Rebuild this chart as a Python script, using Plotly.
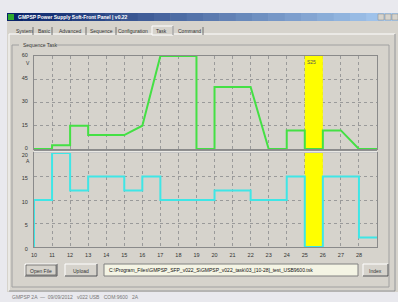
import plotly.graph_objects as go

# ---------------- data ----------------
volt_x = [10, 11, 11, 12, 12, 13, 13, 15, 16, 17, 19, 19, 20, 20, 22, 23, 24, 24, 25, 25, 26, 26, 27, 28, 29]
volt_y = [0, 0, 2.5, 2.5, 15, 15, 9, 9, 15, 60, 60, 0, 0, 40, 40, 0, 0, 12, 12, 0, 0, 12, 12, 0, 0]
curr_x = [10, 10, 11, 12, 13, 15, 16, 17, 20, 22, 24, 25, 26, 28, 29]
curr_y = [0, 10, 20, 12, 15, 12, 15, 10, 12, 10, 15, 0, 15, 2, 2]
sel_step = [25, 26]
sel_label = "S25"
x_ticks = list(range(10, 29))
v_ticks = [0, 15, 30, 45, 60]
a_ticks = [0, 5, 10, 15, 20]
v_range = [0, 60]
a_range = [0, 20]
tabs = ["System", "Basic", "Advanced", "Sequence", "Configuration", "Task", "Command"]
tab_x = [24, 44, 70, 101, 133, 161, 189]
title = "GMPSP Power Supply Soft-Front Panel | v0.22"
path = "C:\\Program_Files\\GMPSP_SFP_v022_S\\GMPSP_v022_task\\03_[10-28]_test_USB9600.tsk"

W, H = 398, 302
L, R, T, B = 34, 377, 56, 247
def X(px): return (px - L) / (R - L)
def Y(py): return (B - py) / (B - T)

WIN = "#d6d3cc"
FONT = "Liberation Sans"

fig = go.Figure()
# selected-step highlight (filled areas under the lines)
s0, s1 = sel_step
fig.add_trace(go.Scatter(x=[s0, s0, s1, s1, s0], y=[v_range[0], v_range[1], v_range[1], v_range[0], v_range[0]],
                         mode="lines", fill="toself", fillcolor="#ffff00", line=dict(width=0),
                         xaxis="x", yaxis="y", hoverinfo="skip"))
fig.add_trace(go.Scatter(x=[s0, s0, s1, s1, s0], y=[a_range[0], a_range[1], a_range[1], a_range[0], a_range[0]],
                         mode="lines", fill="toself", fillcolor="#ffff00", line=dict(width=0),
                         xaxis="x2", yaxis="y2", hoverinfo="skip"))
fig.add_trace(go.Scatter(x=volt_x, y=volt_y, mode="lines", xaxis="x", yaxis="y",
                         line=dict(color="#44e044", width=2), cliponaxis=False, hoverinfo="skip"))
fig.add_trace(go.Scatter(x=curr_x, y=curr_y, mode="lines", line_shape="hv", xaxis="x2", yaxis="y2",
                         line=dict(color="#3fe6e6", width=2), cliponaxis=False, hoverinfo="skip"))

ax_common = dict(range=[10, 29], tickvals=x_ticks, showgrid=True, gridcolor="#9a9a9a", griddash="dot",
                 gridwidth=1, showline=True, linecolor="#8a8a8a", mirror=True, zeroline=False, ticks="",
                 tickfont=dict(size=5.5, color="#333", family=FONT))
top_dom = [Y(149), 1]
bot_dom = [0, Y(153)]
yax_common = dict(showgrid=True, gridcolor="#9a9a9a", griddash="dot", showline=True, linecolor="#8a8a8a",
                  mirror=True, zeroline=False, ticks="", tickfont=dict(size=5.5, color="#333", family=FONT),
                  ticklabelstandoff=4)
fig.update_layout(
    width=W, height=H, margin=dict(l=L, r=W - R, t=T, b=H - B),
    paper_bgcolor="#e9e9ee", plot_bgcolor=WIN, showlegend=False,
    xaxis=dict(ax_common, anchor="y", showticklabels=False),
    xaxis2=dict(ax_common, anchor="y2", ticklabelstandoff=2),
    yaxis=dict(yax_common, domain=top_dom, range=v_range, tickvals=v_ticks, ticklabelshift=-1),
    yaxis2=dict(yax_common, domain=bot_dom, range=a_range, tickvals=a_ticks, ticklabelshift=2),
)

shapes = []
ann = []
def rect(x0, y0, x1, y1, fill=None, line=None, lw=1, layer="below"):
    shapes.append(dict(type="rect", xref="paper", yref="paper", x0=X(x0), x1=X(x1), y0=Y(y1), y1=Y(y0),
                       fillcolor=fill or "rgba(0,0,0,0)",
                       line=dict(color=line or "rgba(0,0,0,0)", width=lw if line else 0), layer=layer))
def hline(x0, x1, y, color, lw=1, layer="below"):
    shapes.append(dict(type="line", xref="paper", yref="paper", x0=X(x0), x1=X(x1), y0=Y(y), y1=Y(y),
                       line=dict(color=color, width=lw), layer=layer))
def vline(x, y0, y1, color, lw=1, layer="below"):
    shapes.append(dict(type="line", xref="paper", yref="paper", x0=X(x), x1=X(x), y0=Y(y0), y1=Y(y1),
                       line=dict(color=color, width=lw), layer=layer))
def text(x, y, s, size=6, color="#222", anchor="left", bold=False):
    ann.append(dict(xref="paper", yref="paper", x=X(x), y=Y(y), text=("<b>%s</b>" % s) if bold else s,
                    showarrow=False, xanchor=anchor, yanchor="middle",
                    font=dict(size=size, color=color, family=FONT)))

# window body
rect(7, 13, 399, 292, fill=WIN)
# title bar gradient
n = 24
c0 = (10, 36, 106); c1 = (166, 202, 240)
for i in range(n):
    t = i / (n - 1)
    col = "rgb(%d,%d,%d)" % tuple(int(a + (b - a) * t) for a, b in zip(c0, c1))
    xa = 7 + (399 - 7) * i / n
    xb = 7 + (399 - 7) * (i + 1) / n + 0.5
    rect(xa, 13, xb, 21, fill=col)
rect(8, 14, 14, 20, fill="#2faa2f")
text(16, 17.2, title, size=5, color="white", bold=True)
for bx in (378, 385, 392):
    rect(bx, 14, bx + 6, 20, fill="#d6d3cc", line="#888", lw=0.5)
# tab panel
rect(9, 34, 395, 291, line="#ffffff", lw=1)
hline(9, 395, 291, "#808080")
vline(395, 34, 291, "#808080")
rect(152, 26, 173, 35, fill=WIN, line="#ffffff", lw=1)
vline(173, 26, 35, "#808080")
for tx, s in zip(tab_x, tabs):
    text(tx, 31, s, size=5, color="#333", anchor="center")
for sx in (33, 52, 86, 116, 203):
    vline(sx, 27, 35, "#555", lw=0.8)
# group box
rect(12, 45, 389, 287, line="#a0a0a0", lw=1)
rect(19, 41, 56, 49, fill=WIN)
text(21, 45, "Sequence Task", size=5, color="#333")
# separator between plots
hline(34, 377, 150.5, "#909090", lw=1, layer="above")
hline(34, 377, 152, "#ffffff", lw=1, layer="above")
ann.append(dict(xref="x", yref="y domain", x=(s0 + s1) / 2 - 0.15, y=0.985, text=sel_label,
                showarrow=False, yanchor="top", font=dict(size=5, color="#555", family=FONT)))
# units
text(28, 63, "V", size=5, color="#333", anchor="center")
text(28, 161, "A", size=5, color="#333", anchor="center")
# buttons and path
def button(x0, x1, s):
    rect(x0, 264, x1, 276, fill=WIN, line="#ffffff", lw=1)
    hline(x0, x1, 276, "#404040")
    vline(x1, 264, 276, "#404040")
    text((x0 + x1) / 2, 270.5, s, size=5, color="#333", anchor="center")
button(25, 57, "Open File")
rect(26, 265, 56, 275, line="#404040", lw=0.6)
button(65, 97, "Upload")
rect(104, 264, 358, 276, fill="#f4f4e4", line="#808080", lw=1)
text(107, 270, path, size=5, color="#111")
button(363, 388, "Index")
# status bar
text(10, 297, "GMPSP 2A  \u2014  09/09/2012   v022 USB   COM:9600   2A", size=5, color="#777")

fig.update_layout(shapes=shapes, annotations=ann)
fig.write_html("out.html", config={"displayModeBar": False},
               post_script="document.body.style.margin='0';")
